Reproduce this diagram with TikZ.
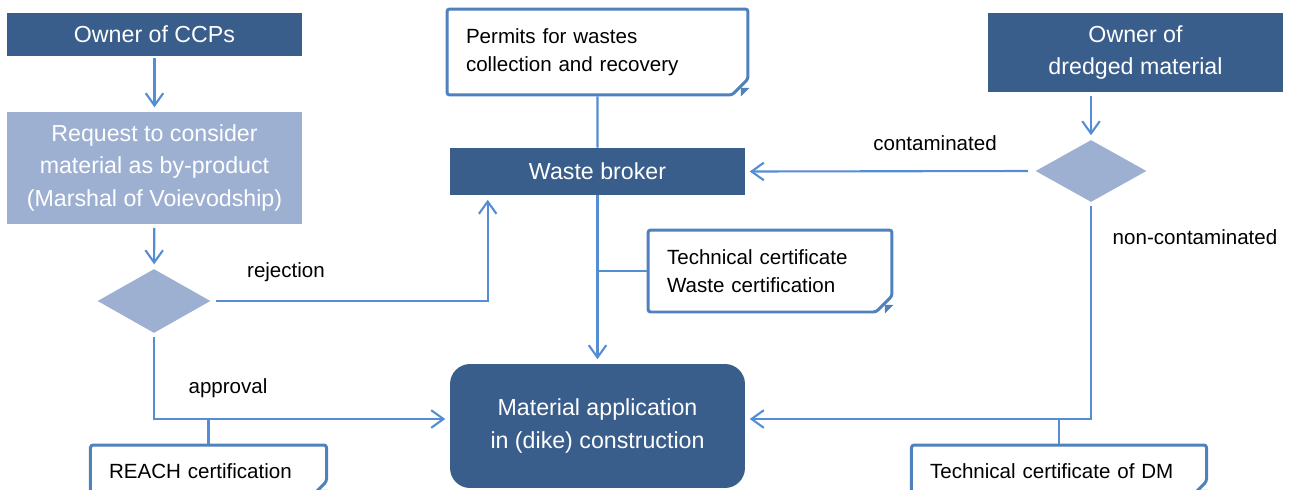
\documentclass[tikz,border=0pt]{standalone}
\usepackage{fontspec}
\setmainfont{Liberation Sans}
\usepackage{tikz}
\usetikzlibrary{shapes.geometric, shapes.misc, arrows.meta, positioning, calc}

\definecolor{darkbox}{RGB}{58,94,140}
\definecolor{lightbox}{RGB}{157,176,209}
\definecolor{linkblue}{RGB}{84,141,212}
\definecolor{docblue}{RGB}{79,129,189}

\begin{document}
\begin{tikzpicture}[
        x=0.02cm, y=-0.02cm,
        darknode/.style={rectangle, fill=darkbox, text=white, minimum width=5.9cm, inner sep=0pt, align=center, font=\fontsize{13.2}{18.7}\selectfont},
        lightnode/.style={darknode, fill=lightbox},
        choice/.style={diamond, fill=lightbox, inner sep=0pt},
        docnode/.style={chamfered rectangle, chamfered rectangle corners=south east, chamfered rectangle xsep=0.16cm, chamfered rectangle ysep=0.16cm, draw=docblue, line width=1.7pt, fill=white, rounded corners=1.5pt, inner xsep=0.22cm, inner ysep=0pt, align=left, font=\fontsize{11.7}{15.9}\selectfont},
        lbl/.style={inner sep=0pt, font=\fontsize{11.7}{15.9}\selectfont},
        arrow/.style={-{Straight Barb[length=7pt,width=10pt]}, line width=1.2pt, linkblue, shorten >=2.5pt},
        link/.style={line width=1.2pt, linkblue}
    ]
        \useasboundingbox (0,0) rectangle (1291,490);
        \clip (0,0) rectangle (1291,490);

        \node[darknode, minimum height=0.86cm] (ccp) at (154.5,34.5) {Owner of CCPs};
        \node[lightnode, minimum height=2.24cm] (req) at (154.5,168) {Request to consider\\material as by-product\\(Marshal of Voievodship)};
        \node[choice, minimum width=2.26cm, minimum height=1.28cm] (dl) at (154,301) {};

        \node[docnode, text width=5.26cm, minimum height=1.72cm] (permit) at (597.5,52) {Permits for wastes\\collection and recovery};
        \node[darknode, minimum height=0.94cm] (wb) at (597.5,171.5) {Waste broker};
        \node[docnode, text width=4.12cm, minimum height=1.64cm] (tcert) at (770,271) {Technical certificate\\Waste certification};
        \node[darknode, rounded corners=0.4cm, minimum height=2.48cm] (mat) at (597.5,426) {Material application\\in (dike) construction};

        \node[docnode, text width=3.98cm, minimum height=1.04cm] (reach) at (208.5,471) {REACH certification};
        \node[docnode, text width=5.16cm, minimum height=1.04cm] (tdm) at (1059,471) {Technical certificate of DM};

        \node[darknode, minimum height=1.58cm] (dm) at (1135.5,52.5) {Owner of\\dredged material};
        \node[choice, minimum width=2.22cm, minimum height=1.24cm] (dr) at (1091,171) {};

        \node[lbl] (rej) at (286,272) {rejection};
        \node[lbl] (app) at (228,388) {approval};
        \node[lbl] (cont) at (935,143) {contaminated};
        \node[lbl] (ncont) at (1195,237) {non-contaminated};

        \coordinate (appr) at ($(mat.west)+(0,-7)$);
        \coordinate (nonc) at ($(mat.east)+(0,-7)$);

        \foreach \n in {permit, tcert, reach, tdm} {
            \coordinate (corner) at (\n.south -| \n.east);
            \fill[docblue] ([xshift=-0.17cm]corner) -- ([yshift=0.17cm]corner) -- ([xshift=-0.17cm, yshift=0.17cm]corner) -- cycle;
        }

        \draw[arrow, shorten <=1pt] (ccp) -- (req);
        \draw[arrow, shorten <=2pt] (req) -- (dl);
        \draw[arrow, shorten <=3pt] (dl.east) -| ($(wb.south west)+(38,0)$);
        \draw[link] (permit) -- (wb);
        \draw[arrow] (wb) -- (mat);
        \draw[link] (tcert.west) -- (tcert.west -| wb.south);
        \draw[arrow, shorten <=2pt] (dl.south) |- (appr);
        \draw[link] (reach.north) -- (reach.north |- appr);

        \draw[arrow, shorten <=2pt] (dm.south -| dr.north) -- (dr.north);
        \draw[arrow, shorten <=4pt] (dr.west) -- (wb.east);
        \draw[arrow, shorten <=2pt] (dr.south) |- (nonc);
        \draw[link] (tdm.north) -- (tdm.north |- nonc);
    \end{tikzpicture}
\end{document}
